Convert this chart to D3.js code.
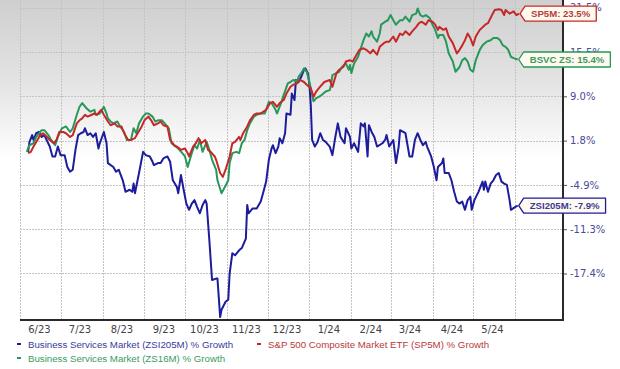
<!DOCTYPE html>
<html><head><meta charset="utf-8">
<script src="https://cdn.jsdelivr.net/npm/d3@7"></script>
<style>body{margin:0;background:#fff}</style>
</head><body><svg id="c" width="620" height="369"></svg>
<script>
const monthLabels = ["6/23","7/23","8/23","9/23","10/23","11/23","12/23","1/24","2/24","3/24","4/24","5/24"];
const yTickValues = [21.5,15.5,9.0,1.8,-4.9,-11.3,-17.4];
const yTickLabels = ["21.5%","15.5%","9.0%","1.8%","-4.9%","-11.3%","-17.4%"];
const legendNames = ["Business Services Market (ZSI205M) % Growth","S&P 500 Composite Market ETF (SP5M) % Growth","Business Services Market (ZS16M) % Growth"];
const endLabels = ["ZSI205M: -7.9%","SP5M: 23.5%","BSVC ZS: 15.4%"];

const zsi205m = [["2023-06-07",0.1],["2023-06-08",1.6],["2023-06-10",2.7],["2023-06-11",1.9],["2023-06-13",3.0],["2023-06-15",3.2],["2023-06-17",2.4],["2023-06-19",2.7],["2023-06-23",0.9],["2023-06-25",-0.6],["2023-06-27",-0.6],["2023-06-29",0.9],["2023-07-01",-0.4],["2023-07-04",-0.4],["2023-07-06",-2.2],["2023-07-08",-2.9],["2023-07-10",-2.6],["2023-07-12",0.4],["2023-07-14",2.7],["2023-07-16",3.0],["2023-07-18",3.2],["2023-07-19",3.8],["2023-07-21",2.7],["2023-07-23",3.0],["2023-07-25",2.4],["2023-07-27",3.0],["2023-07-29",0.6],["2023-07-30",1.4],["2023-08-02",3.2],["2023-08-04",1.4],["2023-08-05",-1.6],["2023-08-09",-2.2],["2023-08-11",-2.9],["2023-08-13",-2.6],["2023-08-16",-4.2],["2023-08-18",-5.9],["2023-08-21",-5.6],["2023-08-23",-5.9],["2023-08-24",-4.7],["2023-08-25",-6.1],["2023-08-28",-3.1],["2023-08-31",0.1],["2023-09-02",-0.4],["2023-09-05",-0.6],["2023-09-07",-1.4],["2023-09-08",-1.9],["2023-09-11",-1.6],["2023-09-13",-1.6],["2023-09-15",-0.9],["2023-09-18",-0.6],["2023-09-20",-1.4],["2023-09-22",-4.2],["2023-09-25",-5.2],["2023-09-26",-6.1],["2023-09-28",-3.4],["2023-09-30",-5.6],["2023-10-02",-7.6],["2023-10-04",-8.5],["2023-10-06",-7.6],["2023-10-08",-7.1],["2023-10-10",-8.1],["2023-10-12",-9.0],["2023-10-14",-7.8],["2023-10-16",-7.1],["2023-10-17",-7.6],["2023-10-19",-12.8],["2023-10-21",-18.3],["2023-10-24",-18.1],["2023-10-25",-18.1],["2023-10-27",-23.4],["2023-10-28",-22.4],["2023-10-31",-21.3],["2023-11-02",-21.0],["2023-11-03",-17.4],["2023-11-05",-14.6],["2023-11-07",-14.9],["2023-11-10",-14.2],["2023-11-12",-13.9],["2023-11-15",-12.6],["2023-11-16",-7.8],["2023-11-17",-9.0],["2023-11-20",-8.3],["2023-11-23",-8.3],["2023-11-26",-7.3],["2023-11-28",-5.9],["2023-11-30",-4.4],["2023-12-02",-1.1],["2023-12-04",0.6],["2023-12-05",1.1],["2023-12-07",-0.1],["2023-12-09",0.9],["2023-12-10",2.2],["2023-12-12",1.4],["2023-12-14",3.0],["2023-12-15",6.2],["2023-12-18",6.0],["2023-12-19",9.4],["2023-12-21",8.4],["2023-12-22",11.4],["2023-12-24",11.1],["2023-12-26",11.9],["2023-12-28",12.9],["2023-12-29",13.1],["2023-12-31",12.3],["2024-01-01",10.7],["2024-01-02",7.6],["2024-01-03",1.9],["2024-01-05",0.9],["2024-01-07",1.6],["2024-01-09",3.0],["2024-01-11",1.9],["2024-01-13",1.6],["2024-01-16",0.9],["2024-01-18",-0.4],["2024-01-20",2.2],["2024-01-22",4.6],["2024-01-24",2.4],["2024-01-27",1.4],["2024-01-28",3.8],["2024-01-31",2.4],["2024-02-01",0.6],["2024-02-03",1.4],["2024-02-06",0.1],["2024-02-08",4.6],["2024-02-10",4.1],["2024-02-11",4.6],["2024-02-13",-0.6],["2024-02-14",4.3],["2024-02-16",3.2],["2024-02-18",2.4],["2024-02-20",0.9],["2024-02-24",1.4],["2024-02-26",1.9],["2024-02-27",2.7],["2024-02-29",0.9],["2024-03-03",1.9],["2024-03-05",-1.6],["2024-03-07",0.9],["2024-03-08",3.5],["2024-03-12",3.0],["2024-03-15",-0.6],["2024-03-17",-0.6],["2024-03-19",1.9],["2024-03-21",3.0],["2024-03-23",1.9],["2024-03-25",1.1],["2024-03-27",1.6],["2024-03-28",0.9],["2024-03-31",-0.6],["2024-04-02",-2.2],["2024-04-04",-4.2],["2024-04-05",-2.2],["2024-04-08",-1.6],["2024-04-09",-0.9],["2024-04-10",-3.1],["2024-04-13",-3.1],["2024-04-15",-4.2],["2024-04-17",-5.9],["2024-04-19",-7.3],["2024-04-21",-7.6],["2024-04-23",-7.3],["2024-04-25",-8.5],["2024-04-27",-7.1],["2024-04-29",-6.6],["2024-04-30",-8.5],["2024-05-02",-7.1],["2024-05-05",-5.9],["2024-05-08",-4.4],["2024-05-09",-5.6],["2024-05-10",-4.4],["2024-05-12",-5.9],["2024-05-14",-4.7],["2024-05-16",-4.2],["2024-05-18",-3.4],["2024-05-20",-3.1],["2024-05-22",-4.4],["2024-05-24",-4.7],["2024-05-26",-4.9],["2024-05-28",-7.1],["2024-05-29",-8.5],["2024-06-01",-8.1],["2024-06-03",-7.9]];

const sp5m = [["2023-06-07",-0.1],["2023-06-09",0.1],["2023-06-11",0.9],["2023-06-13",1.6],["2023-06-16",2.7],["2023-06-18",3.0],["2023-06-21",2.4],["2023-06-23",1.9],["2023-06-26",1.4],["2023-06-28",1.9],["2023-06-30",3.2],["2023-07-03",3.2],["2023-07-05",3.0],["2023-07-08",2.4],["2023-07-10",2.7],["2023-07-13",4.6],["2023-07-15",5.1],["2023-07-17",5.4],["2023-07-19",6.0],["2023-07-21",5.7],["2023-07-24",6.0],["2023-07-26",6.2],["2023-07-28",6.0],["2023-07-31",6.8],["2023-08-02",6.0],["2023-08-05",4.9],["2023-08-07",4.3],["2023-08-10",4.6],["2023-08-12",4.1],["2023-08-15",4.1],["2023-08-17",3.0],["2023-08-20",1.9],["2023-08-22",1.9],["2023-08-25",2.2],["2023-08-27",3.0],["2023-08-30",4.1],["2023-09-01",5.1],["2023-09-04",5.7],["2023-09-06",5.1],["2023-09-08",4.3],["2023-09-11",4.6],["2023-09-13",4.9],["2023-09-15",4.3],["2023-09-18",4.1],["2023-09-20",1.9],["2023-09-23",1.1],["2023-09-25",0.9],["2023-09-28",0.4],["2023-10-01",0.6],["2023-10-03",-0.1],["2023-10-04",-0.6],["2023-10-07",0.9],["2023-10-09",1.4],["2023-10-11",2.2],["2023-10-13",1.4],["2023-10-16",1.9],["2023-10-18",0.4],["2023-10-20",0.1],["2023-10-23",-0.6],["2023-10-24",-1.1],["2023-10-27",-3.1],["2023-10-29",-3.7],["2023-10-31",-2.6],["2023-11-03",-0.6],["2023-11-05",1.4],["2023-11-07",1.6],["2023-11-10",2.4],["2023-11-11",1.9],["2023-11-13",3.0],["2023-11-16",4.1],["2023-11-18",5.1],["2023-11-21",6.0],["2023-11-23",6.2],["2023-11-26",6.2],["2023-11-28",6.5],["2023-11-30",6.8],["2023-12-03",7.9],["2023-12-05",8.1],["2023-12-08",7.3],["2023-12-10",7.9],["2023-12-13",8.4],["2023-12-15",9.4],["2023-12-18",10.4],["2023-12-20",10.7],["2023-12-23",10.9],["2023-12-25",11.4],["2023-12-28",11.1],["2023-12-30",10.7],["2024-01-02",10.2],["2024-01-04",8.9],["2024-01-06",9.7],["2024-01-08",10.2],["2024-01-12",11.1],["2024-01-16",11.4],["2024-01-18",10.4],["2024-01-21",12.4],["2024-01-23",12.9],["2024-01-26",13.3],["2024-01-28",14.1],["2024-01-31",14.3],["2024-02-02",14.1],["2024-02-04",14.8],["2024-02-07",15.8],["2024-02-10",16.0],["2024-02-12",15.8],["2024-02-15",15.3],["2024-02-17",15.8],["2024-02-20",15.1],["2024-02-22",16.2],["2024-02-25",16.7],["2024-02-27",16.9],["2024-02-29",16.9],["2024-03-03",17.6],["2024-03-05",16.9],["2024-03-08",18.0],["2024-03-10",17.8],["2024-03-12",18.3],["2024-03-15",17.8],["2024-03-17",18.3],["2024-03-20",18.9],["2024-03-22",19.4],["2024-03-24",19.6],["2024-03-27",19.2],["2024-03-29",19.8],["2024-04-01",19.6],["2024-04-03",19.2],["2024-04-05",18.5],["2024-04-06",18.9],["2024-04-09",18.5],["2024-04-11",18.7],["2024-04-13",17.6],["2024-04-16",16.7],["2024-04-19",15.3],["2024-04-21",15.8],["2024-04-23",16.4],["2024-04-25",17.1],["2024-04-27",18.0],["2024-04-29",17.4],["2024-05-01",16.4],["2024-05-03",17.6],["2024-05-06",18.5],["2024-05-10",19.2],["2024-05-12",19.4],["2024-05-15",20.5],["2024-05-17",21.2],["2024-05-20",21.3],["2024-05-22",21.2],["2024-05-24",20.5],["2024-05-25",21.2],["2024-05-28",20.7],["2024-05-31",21.0],["2024-06-02",20.5],["2024-06-04",20.7]];

const bsvcZs = [["2023-06-06",0.1],["2023-06-08",1.1],["2023-06-11",1.4],["2023-06-13",2.4],["2023-06-17",3.5],["2023-06-19",3.5],["2023-06-22",2.7],["2023-06-24",1.9],["2023-06-27",1.1],["2023-06-29",2.4],["2023-07-02",3.8],["2023-07-05",4.1],["2023-07-08",3.2],["2023-07-10",3.8],["2023-07-13",6.0],["2023-07-15",7.3],["2023-07-17",7.9],["2023-07-20",7.1],["2023-07-23",6.5],["2023-07-26",6.8],["2023-07-27",6.0],["2023-07-30",6.2],["2023-08-02",7.3],["2023-08-04",6.2],["2023-08-05",5.4],["2023-08-07",4.9],["2023-08-09",4.6],["2023-08-12",4.9],["2023-08-14",4.1],["2023-08-17",3.2],["2023-08-19",1.9],["2023-08-22",1.9],["2023-08-24",3.8],["2023-08-26",3.0],["2023-08-28",4.6],["2023-08-31",5.7],["2023-09-02",6.2],["2023-09-04",6.2],["2023-09-07",5.7],["2023-09-09",4.9],["2023-09-11",5.1],["2023-09-14",5.1],["2023-09-16",4.6],["2023-09-19",3.8],["2023-09-21",1.4],["2023-09-24",0.9],["2023-09-26",0.6],["2023-09-29",-0.1],["2023-10-01",-0.6],["2023-10-03",-2.2],["2023-10-06",-0.1],["2023-10-08",1.1],["2023-10-10",0.6],["2023-10-12",1.9],["2023-10-14",0.1],["2023-10-17",1.6],["2023-10-19",0.4],["2023-10-21",-1.1],["2023-10-24",-2.6],["2023-10-25",-4.2],["2023-10-28",-6.1],["2023-10-30",-5.4],["2023-11-02",-4.2],["2023-11-03",-1.6],["2023-11-05",-0.1],["2023-11-08",0.1],["2023-11-10",-0.1],["2023-11-12",1.4],["2023-11-14",1.9],["2023-11-16",3.5],["2023-11-18",4.6],["2023-11-21",5.7],["2023-11-23",6.0],["2023-11-26",6.2],["2023-11-29",6.2],["2023-12-02",8.1],["2023-12-04",7.9],["2023-12-07",6.8],["2023-12-08",6.2],["2023-12-11",7.9],["2023-12-13",9.2],["2023-12-16",10.9],["2023-12-18",11.1],["2023-12-20",11.4],["2023-12-23",11.1],["2023-12-24",11.9],["2023-12-26",12.4],["2023-12-28",13.1],["2023-12-30",12.6],["2024-01-01",11.1],["2024-01-04",8.2],["2024-01-06",8.7],["2024-01-08",8.9],["2024-01-10",9.2],["2024-01-13",9.7],["2024-01-16",9.9],["2024-01-17",10.7],["2024-01-18",12.1],["2024-01-21",12.4],["2024-01-23",12.6],["2024-01-25",13.3],["2024-01-28",13.8],["2024-01-30",12.9],["2024-01-31",13.6],["2024-02-01",12.4],["2024-02-03",13.8],["2024-02-06",14.8],["2024-02-08",16.0],["2024-02-10",17.1],["2024-02-12",18.0],["2024-02-14",17.6],["2024-02-16",18.3],["2024-02-17",17.6],["2024-02-20",16.9],["2024-02-22",18.0],["2024-02-23",19.2],["2024-02-26",19.6],["2024-02-28",19.8],["2024-03-01",20.5],["2024-03-03",19.8],["2024-03-05",19.2],["2024-03-08",19.8],["2024-03-10",19.8],["2024-03-12",20.3],["2024-03-15",19.6],["2024-03-17",20.5],["2024-03-20",20.7],["2024-03-21",21.4],["2024-03-23",20.5],["2024-03-25",20.3],["2024-03-27",20.5],["2024-03-30",20.1],["2024-04-01",19.2],["2024-04-03",18.5],["2024-04-05",17.4],["2024-04-06",17.8],["2024-04-09",17.8],["2024-04-11",16.9],["2024-04-13",15.3],["2024-04-16",14.1],["2024-04-18",12.6],["2024-04-21",13.3],["2024-04-23",14.3],["2024-04-25",14.6],["2024-04-27",14.1],["2024-04-29",12.9],["2024-05-01",12.6],["2024-05-03",14.3],["2024-05-06",15.8],["2024-05-08",16.4],["2024-05-11",16.9],["2024-05-14",17.1],["2024-05-16",17.4],["2024-05-19",17.4],["2024-05-21",17.1],["2024-05-23",16.4],["2024-05-25",16.2],["2024-05-27",15.8],["2024-05-29",14.8],["2024-05-31",14.6],["2024-06-03",14.4]];

const seriesColors = ["#1c1c9c","#c62828","#27975a"];
const textColors = ["#3a3a9a","#b83a3a","#3c9a60"];

const W = 620, H = 369;
const plot = {left: 20, right: 563, top: 0, bottom: 320};
const svg = d3.select("#c");
const parse = d3.timeParse("%Y-%m-%d");
const start = new Date(2023,5,1), end = new Date(2024,5,1);

const x = d3.scaleTime().domain([start, end]).range([plot.left, 515]);
const gridTop = 7.7, gridStep = 44.3;
const y = d3.scaleLinear().domain(yTickValues).range(yTickValues.map((d,i)=>gridTop + i*gridStep));

// background gradient
const defs = svg.append("defs");
const lg = defs.append("linearGradient").attr("id","bg").attr("x1",0).attr("x2",0).attr("y1",0).attr("y2",1);
lg.append("stop").attr("offset","0").attr("stop-color","#cfcfcf");
lg.append("stop").attr("offset","0.25").attr("stop-color","#e3e3e3");
lg.append("stop").attr("offset","0.5").attr("stop-color","#ffffff");
svg.append("rect").attr("x",0).attr("y",0).attr("width",plot.right).attr("height",plot.bottom).attr("fill","url(#bg)");

// grid
const g = svg.append("g");
const monthStarts = d3.timeMonth.range(start, d3.timeDay.offset(end,1));
g.selectAll("line.v").data(monthStarts).join("line")
  .attr("x1",d=>Math.round(x(d))+0.5).attr("x2",d=>Math.round(x(d))+0.5)
  .attr("y1",plot.top).attr("y2",plot.bottom)
  .attr("stroke","#c4c4c4").attr("stroke-width",1).attr("stroke-dasharray","2,1");
const gridVals = yTickValues.concat([]);
g.selectAll("line.h").data(gridVals).join("line")
  .attr("x1",plot.left).attr("x2",plot.right)
  .attr("y1",d=>Math.round(y(d))+0.5).attr("y2",d=>Math.round(y(d))+0.5)
  .attr("stroke","#c4c4c4").attr("stroke-width",1).attr("stroke-dasharray","2,1");

// lines
const line = d3.line().x(d=>x(parse(d[0]))).y(d=>y(d[1]));
const allSeries = [zsi205m, sp5m, bsvcZs];
const drawOrder = [0,2,1];
drawOrder.forEach(i=>{
  svg.append("path").attr("d",line(allSeries[i])).attr("fill","none")
    .attr("stroke",seriesColors[i]).attr("stroke-width",2).attr("stroke-linejoin","round");
});

// axes
const yAxis = d3.axisRight(y).tickValues(yTickValues).tickFormat((d,i)=>yTickLabels[i]).tickSize(4).tickPadding(3);
const ya = svg.append("g").attr("transform",`translate(${plot.right},0)`).call(yAxis);
ya.select(".domain").remove();
ya.selectAll("line").attr("stroke","#555");
ya.selectAll("text").attr("font-family","DejaVu Sans").attr("font-size",10).attr("fill","#4a4a98");
svg.append("line").attr("x1",plot.right).attr("x2",plot.right).attr("y1",0).attr("y2",plot.bottom+1)
  .attr("stroke","#2a2a2a").attr("stroke-width",2);
svg.append("line").attr("x1",plot.left).attr("x2",plot.right+1).attr("y1",plot.bottom).attr("y2",plot.bottom)
  .attr("stroke","#2a2a2a").attr("stroke-width",2);

const midMonths = d3.timeMonth.range(start, end).map(m=>d3.timeDay.offset(m,14));
const xAxis = d3.axisBottom(x).tickValues(midMonths).tickFormat((d,i)=>monthLabels[i]).tickSize(0).tickPadding(6);
const xa = svg.append("g").attr("transform",`translate(0,${plot.bottom})`).call(xAxis);
xa.select(".domain").remove();
xa.selectAll("text").attr("font-family","DejaVu Sans").attr("font-size",10).attr("fill","#444");

// end labels
const labelOrder = [1,2,0];
labelOrder.forEach(i=>{
  const s = allSeries[i];
  const last = s[s.length-1];
  const tx = x(parse(last[0])) + 1, ty = y(last[1]);
  const grp = svg.append("g");
  const t = grp.append("text").attr("font-family","Liberation Sans, Arial").attr("font-weight","bold")
    .attr("font-size",9.6).attr("fill",textColors[i]).text(endLabels[i]);
  const tw = t.node().getComputedTextLength();
  const h = 15, pad = 6, tip = 5;
  const bx = tx + tip, bw = tw + 2*pad;
  grp.insert("path","text").attr("d",`M${tx},${ty} L${bx},${ty-h/2} L${bx+bw},${ty-h/2} L${bx+bw},${ty+h/2} L${bx},${ty+h/2} Z`)
    .attr("fill","#fffaf0").attr("stroke",seriesColors[i]).attr("stroke-width",1.3).attr("stroke-linejoin","round");
  t.attr("x",bx+pad).attr("y",ty+3.5);
});

// legend
const legendPos = [[17,344],[257,344],[17,358]];
legendNames.forEach((name,i)=>{
  const [lx,ly] = legendPos[i];
  svg.append("line").attr("x1",lx).attr("x2",lx+4).attr("y1",ly).attr("y2",ly)
    .attr("stroke",seriesColors[i]).attr("stroke-width",2);
  svg.append("text").attr("x",lx+11).attr("y",ly+3.5).attr("font-family","Liberation Sans, Arial")
    .attr("font-size",9.7).attr("fill",textColors[i]).text(name);
});
</script>
</body></html>
